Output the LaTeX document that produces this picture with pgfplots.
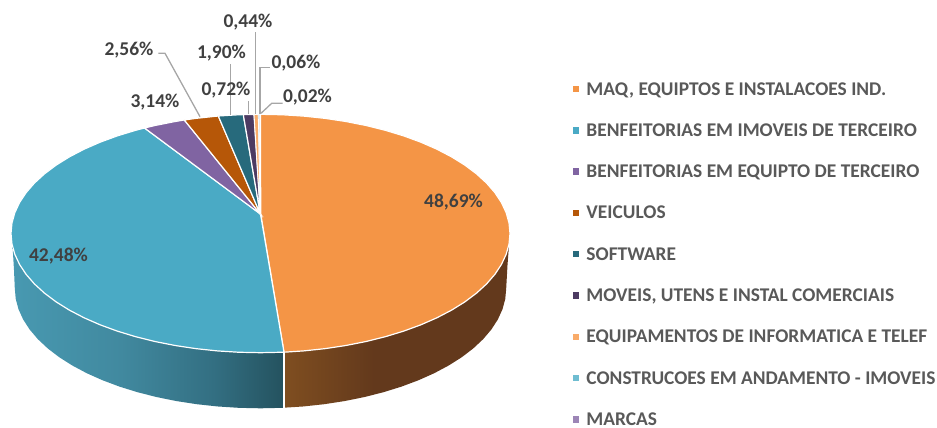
\documentclass[border=0pt]{standalone}
\usepackage{fontspec}
\setmainfont{Carlito}
\usepackage{pgfplots}
\pgfplotsset{compat=1.18}
\definecolor{cA}{HTML}{F49546}
\definecolor{cB}{HTML}{4AAAC5}
\definecolor{cC}{HTML}{8064A2}
\definecolor{cD}{HTML}{B65708}
\definecolor{cE}{HTML}{276A7C}
\definecolor{cF}{HTML}{4D3B62}
\definecolor{cG}{HTML}{F9AB69}
\definecolor{cH}{HTML}{6FBDD1}
\definecolor{cI}{HTML}{9C85B6}
\definecolor{lab}{HTML}{404040}
\definecolor{leg}{HTML}{595959}
\definecolor{lead}{HTML}{A6A6A6}
\definecolor{bsA}{HTML}{4899B1}
\definecolor{bsB}{HTML}{41899F}
\definecolor{bsC}{HTML}{336F82}
\definecolor{bsD}{HTML}{24525F}
\definecolor{osA}{HTML}{7F4E20}
\definecolor{osB}{HTML}{63391C}
\pgfdeclarehorizontalshading{blueside}{100bp}{color(0bp)=(bsA);color(25bp)=(bsA);color(45bp)=(bsB);color(62bp)=(bsC);color(75bp)=(bsD);color(100bp)=(bsD)}
\pgfdeclarehorizontalshading{orangeside}{100bp}{color(0bp)=(osA);color(25bp)=(osA);color(45bp)=(osB);color(100bp)=(osB)}
\begin{document}
\begin{tikzpicture}
\begin{axis}[
  scale only axis, width=937pt, height=428pt,
  xmin=0, xmax=937, ymin=0, ymax=428, y dir=reverse,
  hide axis, clip=false, no markers,
  legend cell align=left,
  legend image code/.code={\path[#1,draw=none] (0pt,2.8pt) rectangle (6.5pt,9.3pt);},
  legend style={draw=none, fill=none, at={(0.6115,0.8084)}, anchor=north west, inner sep=0pt, outer sep=0pt,
    row sep=28.3pt,
    nodes={inner sep=0pt, outer sep=0pt, text height=13pt, text depth=0pt, anchor=base west, text=leg, font=\fontsize{19.4}{20}\selectfont\bfseries},
    /tikz/every odd column/.append style={column sep=7pt}},
]
\path (axis cs:0,0) (axis cs:937,428);
% sides
\addplot[forget plot, shade, shading=orangeside, draw=none] coordinates {
(509,245)(507.5,265)(506.2,288.5)(505.26,298.94)(502.47,309.3)(497.82,319.5)(491.38,329.47)(483.18,339.13)(473.28,348.4)(461.78,357.21)(448.7,365.5)(434.23,373.21)(418.44,380.27)(401.43,386.63)(383.35,392.25)(364.33,397.07)(344.53,401.07)(324.09,404.22)(303.15,406.48)(284,407.7)(284,340)
} --cycle;
\addplot[forget plot, shade, shading=blueside, draw=none] coordinates {
(284,407.7)(281.91,407.84)(260.5,408.3)(239.09,407.84)(217.85,406.48)(196.91,404.22)(176.47,401.07)(156.67,397.07)(137.65,392.25)(119.57,386.63)(102.56,380.27)(86.77,373.21)(72.3,365.5)(59.22,357.21)(47.72,348.4)(37.82,339.13)(29.62,329.47)(23.18,319.5)(18.53,309.3)(15.74,298.94)(14.8,288.5)(14,270)(12.5,245)(284,340)
} --cycle;
\addplot[forget plot, white, line width=1.2pt] coordinates {(284,352)(284,408.3)};
% top face
\addplot[fill=cA, draw=white, line width=1.2pt] coordinates {
(260.7,214)(260.5,114.3)(282.25,114.75)(303.82,116.11)(325.07,118.36)(345.83,121.49)(365.94,125.47)(385.25,130.27)(403.61,135.86)(420.88,142.19)(436.92,149.21)(451.62,156.88)(464.89,165.13)(476.57,173.9)(486.62,183.12)(494.96,192.73)(501.49,202.65)(506.21,212.8)(509.05,223.11)(510,233.5)(509.05,243.89)(506.21,254.2)(501.49,264.35)(494.96,274.27)(486.62,283.88)(476.57,293.1)(464.89,301.87)(451.62,310.12)(436.92,317.79)(420.88,324.81)(403.61,331.14)(385.25,336.73)(365.94,341.53)(345.83,345.51)(325.07,348.64)(303.82,350.89)(284,352.2)
} --cycle;
\addlegendentry{MAQ, EQUIPTOS E INSTALACOES IND.}
\addplot[fill=cB, draw=white, line width=1.2pt] coordinates {
(260.5,214)(284,352.2)(260.5,352.7)(238.75,352.25)(217.18,350.89)(195.93,348.64)(175.17,345.51)(155.06,341.53)(135.75,336.73)(117.39,331.14)(100.12,324.81)(84.08,317.79)(69.38,310.12)(56.11,301.87)(44.43,293.1)(34.38,283.88)(26.04,274.27)(19.51,264.35)(14.79,254.2)(11.95,243.89)(11,233.5)(11.95,223.11)(14.79,212.8)(19.51,202.65)(26.04,192.73)(34.38,183.12)(44.43,173.9)(56.11,165.13)(69.38,156.88)(84.08,149.21)(100.12,142.19)(117.39,135.86)(135.75,130.27)(144.5,128)
} --cycle;
\addlegendentry{BENFEITORIAS EM IMOVEIS DE TERCEIRO}
\addplot[fill=cC, draw=white, line width=1.2pt] coordinates {(260.3,214)(144.5,128)(155.06,125.47)(175.17,121.49)(184.3,120)} --cycle;
\addlegendentry{BENFEITORIAS EM EQUIPTO DE TERCEIRO}
\addplot[fill=cD, draw=white, line width=1.2pt] coordinates {(260.3,214)(184.3,120)(195.93,118.36)(217.18,116.11)(218.3,116)} --cycle;
\addlegendentry{VEICULOS}
\addplot[fill=cE, draw=white, line width=1.2pt] coordinates {(260.3,214)(218.3,116)(238.75,114.75)(243.3,114.6)} --cycle;
\addlegendentry{SOFTWARE}
\addplot[fill=cF, draw=white, line width=1.2pt] coordinates {(260.3,214)(243.3,114.6)(254,114.4)} --cycle;
\addlegendentry{MOVEIS, UTENS E INSTAL COMERCIAIS}
\addplot[fill=cG, draw=white, line width=0.9pt] coordinates {(260.3,214)(254,114.4)(258.3,114.3)} --cycle;
\addlegendentry{EQUIPAMENTOS DE INFORMATICA E TELEF}
\addplot[fill=cH, draw=white, line width=0.7pt] coordinates {(260.3,214)(258.3,114.3)(259.6,114.3)} --cycle;
\addlegendentry{CONSTRUCOES EM ANDAMENTO - IMOVEIS}
\addplot[fill=cI, draw=white, line width=0.7pt] coordinates {(260.4,214)(259.6,114.3)(260.5,114.3)} --cycle;
\addlegendentry{MARCAS}
% leader lines
\addplot[forget plot, lead, line width=1.3pt] coordinates {(158.3,53.3)(165,53.3)(200,116.7)};
\addplot[forget plot, lead, line width=1.3pt] coordinates {(230.7,64)(230.7,115)};
\addplot[forget plot, lead, line width=1.3pt] coordinates {(248.3,101)(248.3,114)};
\addplot[forget plot, lead, line width=1.3pt] coordinates {(255.7,32.3)(255.7,114)};
\addplot[forget plot, lead, line width=1.3pt] coordinates {(270,67.7)(260,67.7)(260,114)};
\addplot[forget plot, lead, line width=1.3pt] coordinates {(282.7,103.3)(271.7,103.3)(261,113.3)};
% labels
\begin{scope}[every node/.style={text=lab, font=\fontsize{19.5}{20}\selectfont\bfseries, inner sep=0pt}]
\node at (axis cs:453.5,202) {48,69\%};
\node at (axis cs:58.5,256) {42,48\%};
\node at (axis cs:155,102) {3,14\%};
\node at (axis cs:129,50) {2,56\%};
\node at (axis cs:221.5,53) {1,90\%};
\node at (axis cs:226,90) {0,72\%};
\node at (axis cs:248,22) {0,44\%};
\node at (axis cs:296,63) {0,06\%};
\node at (axis cs:307.5,97) {0,02\%};
\end{scope}
\end{axis}
\end{tikzpicture}
\end{document}
